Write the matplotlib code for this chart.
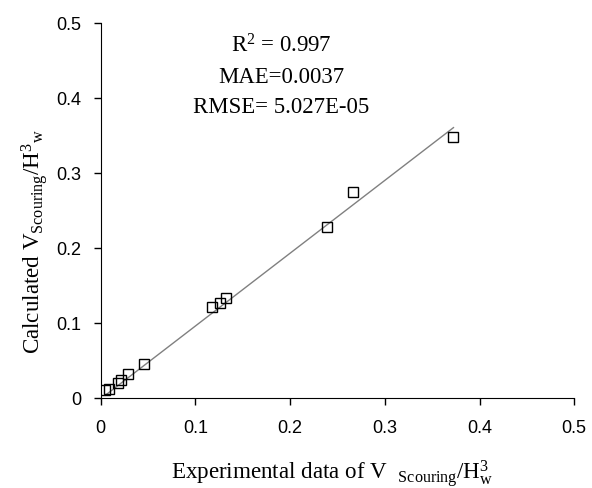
import numpy as np
import matplotlib
matplotlib.use('Agg')
import matplotlib.pyplot as plt

# experimental vs calculated scour volume
x_exp = [0.005, 0.009, 0.018, 0.021, 0.029, 0.046, 0.118, 0.126, 0.132, 0.239, 0.266, 0.372]
y_calc = [0.011, 0.012, 0.020, 0.024, 0.032, 0.046, 0.122, 0.127, 0.134, 0.229, 0.275, 0.349]

# trend line end points
fit_x = [0.005, 0.3725]
fit_y = [0.004, 0.361]

ticks = [0, 0.1, 0.2, 0.3, 0.4, 0.5]
tick_labels = ['0', '0.1', '0.2', '0.3', '0.4', '0.5']

plt.rcParams['mathtext.fontset'] = 'custom'
plt.rcParams['mathtext.rm'] = 'Liberation Serif'
plt.rcParams['mathtext.it'] = 'Liberation Serif:italic'

fig = plt.figure(figsize=(5.92, 4.88), dpi=100)
ax = fig.add_axes([0.170, 0.184, 0.800, 0.768])

ax.plot(fit_x, fit_y, color='#808080', lw=1.0, zorder=1)
ax.plot(x_exp, y_calc, 's', ms=7.8, mfc='none', mec='black', mew=1.0, zorder=2)

ax.set_xlim(0, 0.5)
ax.set_ylim(0, 0.5)
ax.set_xticks(ticks)
ax.set_xticklabels(tick_labels)
ax.set_yticks(ticks)
ax.set_yticklabels(tick_labels)
for lab in ax.get_xticklabels() + ax.get_yticklabels():
    lab.set_family('Liberation Sans')
    lab.set_fontsize(13)
ax.tick_params(direction='out', length=5, width=1, pad=9, colors='black')
ax.tick_params(axis='x', pad=11)

ax.spines['top'].set_visible(False)
ax.spines['right'].set_visible(False)

serif = 'Liberation Serif'
fig.text(40 / 592, 0.506, r'Calculated V$_{\mathrm{Scouring}}$/H$^{3}$$_{\mathrm{w}}$',
         rotation=90, rotation_mode='anchor', ha='center', va='baseline',
         family=serif, fontsize=16.6)
fig.text(332 / 592, 9 / 488, r'Experimental data of V  $_{\mathrm{Scouring}}$/H$_{\mathrm{w}}^{3}$',
         ha='center', va='baseline', family=serif, fontsize=16.6)

ax.text(0.381, 0.923, r'R$^{2}$ = 0.997', transform=ax.transAxes,
        ha='center', va='baseline', family=serif, fontsize=16.4)
ax.text(0.381, 0.841, 'MAE=0.0037', transform=ax.transAxes,
        ha='center', va='baseline', family=serif, fontsize=16.4)
ax.text(0.381, 0.761, 'RMSE= 5.027E-05', transform=ax.transAxes,
        ha='center', va='baseline', family=serif, fontsize=16.4)

plt.savefig('out.png', dpi=100)
